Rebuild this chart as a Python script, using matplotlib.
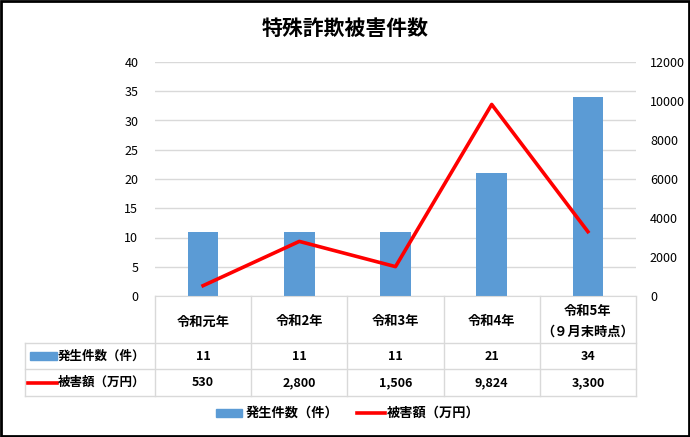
import matplotlib
matplotlib.use('Agg')
import matplotlib.pyplot as plt
from matplotlib.lines import Line2D
from matplotlib.patches import Rectangle
from matplotlib.transforms import blended_transform_factory

plt.rcParams['font.family'] = ['Noto Sans CJK JP', 'DejaVu Sans']

# data
years = ['令和元年', '令和2年', '令和3年', '令和4年', '令和5年\n（９月末時点）']
cases = [11, 11, 11, 21, 34]
damage = [530, 2800, 1506, 9824, 3300]
case_label = '発生件数（件）'
damage_label = '被害額（万円）'
title = '特殊詐欺被害件数'

W, H = 690, 437
BLUE = '#5B9BD5'
RED = '#FF0000'
GRID = '#D9D9D9'

fig = plt.figure(figsize=(W / 100, H / 100), dpi=100)

def fx(px):
    return px / W

def fy(py):
    return 1 - py / H

# plot area
left, right, top, bottom = 155, 636, 62, 296
ax = fig.add_axes([fx(left), fy(bottom), fx(right - left), (bottom - top) / H])
ax2 = ax.twinx()

x = range(len(years))
ax.bar(x, cases, width=0.32, color=BLUE, zorder=2)
ax.set_xlim(-0.5, len(years) - 0.5)
ax.set_ylim(0, 40)
ax.set_yticks(range(0, 41, 5))
ax.yaxis.grid(True, color=GRID, linewidth=1)
ax.set_axisbelow(True)
ax.set_xticks([])

ax2.plot(x, damage, color=RED, linewidth=2.6, zorder=3)
ax2.set_ylim(0, 12000)
ax2.set_yticks(range(0, 12001, 2000))

for a in (ax, ax2):
    for s in ('top', 'left', 'right'):
        a.spines[s].set_visible(False)
    a.tick_params(length=0, labelsize=9, colors='#000000')
ax.spines['bottom'].set_color(GRID)
ax2.spines['bottom'].set_visible(False)
ax.tick_params(axis='y', pad=12)
ax2.tick_params(axis='y', pad=10)

fig.text(0.5, fy(28), title, ha='center', va='center', fontsize=15, fontweight='bold')

# data table
tr = blended_transform_factory(ax.transData, fig.transFigure)
col_edges = [left + i * (right - left) / len(years) for i in range(len(years) + 1)]
row_y = [bottom, 343, 369, 396]
tbl_left = 25

def fig_line(xs, ys, **kw):
    fig.add_artist(Line2D([fx(v) for v in xs], [fy(v) for v in ys],
                          transform=fig.transFigure, color=GRID, linewidth=1, **kw))

for cx in col_edges:
    fig_line([cx, cx], [bottom, row_y[-1]])
fig_line([tbl_left, tbl_left], [row_y[1], row_y[-1]])
for ry in row_y[1:]:
    fig_line([tbl_left, right], [ry, ry])

for i, yr in enumerate(years):
    ax.text(i, fy((bottom + row_y[1]) / 2 + 2), yr, transform=tr, ha='center', va='center',
            fontsize=9.5, fontweight='bold', linespacing=1.6)
    ax.text(i, fy((row_y[1] + row_y[2]) / 2), f'{cases[i]:,}', transform=tr,
            ha='center', va='center', fontsize=9, fontweight='bold')
    ax.text(i, fy((row_y[2] + row_y[3]) / 2), f'{damage[i]:,}', transform=tr,
            ha='center', va='center', fontsize=9, fontweight='bold')

# row keys
r1 = (row_y[1] + row_y[2]) / 2
r2 = (row_y[2] + row_y[3]) / 2
fig.add_artist(Rectangle((fx(30), fy(r1 + 4)), fx(27), 8 / H, transform=fig.transFigure,
                         color=BLUE))
fig.text(fx(58), fy(r1), case_label, ha='left', va='center', fontsize=9, fontweight='bold')
fig.add_artist(Line2D([fx(28), fx(57)], [fy(r2), fy(r2)], transform=fig.transFigure,
                      color=RED, linewidth=2.6))
fig.text(fx(58), fy(r2), damage_label, ha='left', va='center', fontsize=9, fontweight='bold')

# legend
ly = 413
fig.add_artist(Rectangle((fx(216), fy(ly + 4)), fx(26), 8 / H, transform=fig.transFigure,
                         color=BLUE))
fig.text(fx(246), fy(ly), case_label, ha='left', va='center', fontsize=9.5, fontweight='bold')
fig.add_artist(Line2D([fx(357), fx(385)], [fy(ly), fy(ly)], transform=fig.transFigure,
                      color=RED, linewidth=2.6))
fig.text(fx(387), fy(ly), damage_label, ha='left', va='center', fontsize=9.5, fontweight='bold')

# outer frame
fig.add_artist(Rectangle((fx(1), fy(436)), fx(688), 435 / H, transform=fig.transFigure,
                         fill=False, edgecolor='#000000', linewidth=2))

fig.savefig('out.png', dpi=100)
